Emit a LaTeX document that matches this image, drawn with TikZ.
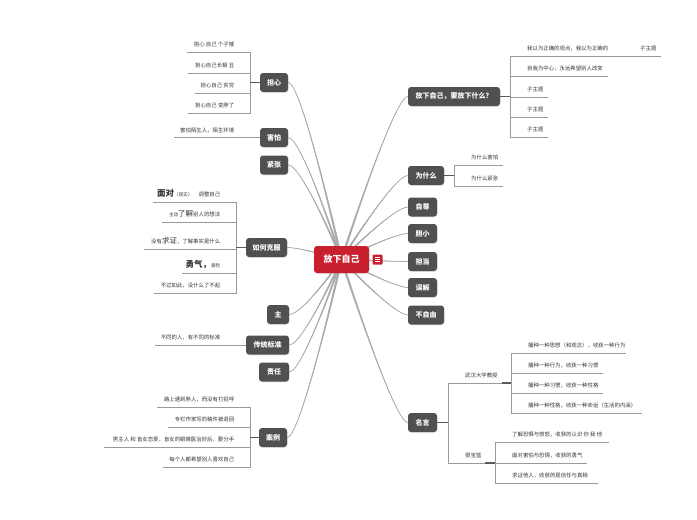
\documentclass[tikz,border=0pt]{standalone}
\usepackage{fontspec}
\setmainfont{Noto Sans CJK SC}
\usetikzlibrary{calc,backgrounds,shadows}
\definecolor{nodegray}{HTML}{505050}
\definecolor{mainred}{HTML}{C8202F}
\definecolor{connc}{HTML}{ABABAB}
\definecolor{leafc}{HTML}{9A9A9A}
\definecolor{stubc}{HTML}{5A5A5A}
\definecolor{txt}{HTML}{333333}
\tikzset{
 topic/.style={fill=nodegray, text=white, rounded corners=3pt, minimum height=19pt, inner sep=0pt,
   font=\bfseries\fontsize{7}{8}\selectfont,
   drop shadow={opacity=0.2, shadow xshift=0.6pt, shadow yshift=-0.8pt}},
 central/.style={fill=mainred, text=white, rounded corners=3pt, minimum width=55pt, minimum height=27pt,
   inner sep=0pt, font=\bfseries\fontsize{9}{10}\selectfont,
   drop shadow={opacity=0.2, shadow xshift=0.6pt, shadow yshift=-0.8pt}},
 icon/.style={fill=mainred, rounded corners=1pt, minimum size=10pt, inner sep=0pt},
 leaf/.style={inner xsep=0pt, inner ysep=5pt, text depth=0pt, text height=4.5pt,
   font=\fontsize{5.4}{6}\selectfont, text=txt, anchor=south west},
 leafline/.style={draw=leafc, line width=0.6pt},
 bracket/.style={draw=leafc, line width=0.6pt},
 stub/.style={draw=stubc, line width=1.2pt},
 cfill/.style={fill=connc},
 cline/.style={draw=connc, line width=0.7pt},
}
\newcommand\bigboldtxt[1]{{\fontsize{8.5}{9}\selectfont\bfseries #1}}
\newcommand\bigplaintxt[1]{{\fontsize{7.5}{8}\selectfont #1}}
\newcommand\smallplaintxt[1]{{\fontsize{4.6}{5}\selectfont #1}}
\newcommand\leafL[5]{\node[leaf] (#1) at (#2,#3) {\makebox[#4pt][r]{#5\hspace{16pt}}};
  \draw[leafline] (#1.south west) -- (#1.south east);}
\newcommand\leafR[5]{\node[leaf] (#1) at (#2,#3) {\makebox[#4pt][l]{\hspace{17pt}#5}};
  \draw[leafline] (#1.south west) -- (#1.south east);}
\newcommand\mainbranch[2]{%
 \coordinate (ctl) at ($(#1)+(#2,0)$);
 \coordinate (sa) at ($(c.center)+(-1.3,0)$);
 \coordinate (sb) at ($(c.center)+(1.3,0)$);
 \coordinate (sc) at ($(c.center)+(0,-1.3)$);
 \coordinate (sd) at ($(c.center)+(0,1.3)$);
 \fill[cfill] (sa) .. controls (sa) and (ctl) .. (#1) .. controls (ctl) and (sb) .. (sb) -- cycle;
 \fill[cfill] (sc) .. controls (sc) and (ctl) .. (#1) .. controls (ctl) and (sd) .. (sd) -- cycle;
 \draw[cline] (c.center) .. controls (c.center) and (ctl) .. (#1);}
\begin{document}
\begin{tikzpicture}[x=1pt,y=-1pt]
\useasboundingbox (0,0) rectangle (697,520);
% central
\node[central] (c) at (341.5,259.5) {放下自己};
\node[icon] (ic) at (377.5,259.5) {};
\draw[white, line width=0.6pt] ($(ic.center)+(-2.6,-2)$) -- ++(5.2,0)
  ($(ic.center)+(-2.6,0)$) -- ++(5.2,0) ($(ic.center)+(-2.6,2)$) -- ++(5.2,0);
% right topics
\node[topic, minimum width=92pt] (n1) at (454,96.5) {放下自己，要放下什么？};
\node[topic, minimum width=36pt] (n2) at (426,175.5) {为什么};
\node[topic, minimum width=29pt] (n3) at (422.5,207) {自尊};
\node[topic, minimum width=29pt] (n4) at (422.5,233.5) {胆小};
\node[topic, minimum width=29pt] (n5) at (422.5,261.5) {担当};
\node[topic, minimum width=29pt] (n6) at (422.5,287.5) {误解};
\node[topic, minimum width=36pt] (n7) at (426,315) {不自由};
\node[topic, minimum width=29pt] (n8) at (422.5,422.5) {名言};
% left topics
\node[topic, minimum width=28pt] (m1) at (274,82.5) {担心};
\node[topic, minimum width=28pt] (m2) at (274,137.5) {害怕};
\node[topic, minimum width=28pt] (m3) at (274,165) {紧张};
\node[topic, minimum width=41pt] (m4) at (266.5,247.5) {如何克服};
\node[topic, minimum width=22pt] (m5) at (278,314.5) {主};
\node[topic, minimum width=43pt] (m6) at (267.5,345) {传统标准};
\node[topic, minimum width=30pt] (m7) at (274,372) {责任};
\node[topic, minimum width=28pt] (m8) at (273,437.5) {案例};
% main connectors
\begin{pgfonlayer}{background}
\mainbranch{n1.west}{-14}
\mainbranch{n2.west}{-14}
\mainbranch{n3.west}{-14}
\mainbranch{n4.west}{-14}
\mainbranch{n5.west}{-14}
\mainbranch{n6.west}{-14}
\mainbranch{n7.west}{-14}
\mainbranch{n8.west}{-14}
\mainbranch{m1.east}{14}
\mainbranch{m2.east}{14}
\mainbranch{m3.east}{14}
\mainbranch{m4.east}{14}
\mainbranch{m5.east}{14}
\mainbranch{m6.east}{14}
\mainbranch{m7.east}{14}
\mainbranch{m8.east}{14}
\end{pgfonlayer}
% ---- right leaves
\leafR{r1}{510}{56}{103}{我以为正确的观点，我以为正确的}
\leafR{r1c}{623}{56}{38}{子主题}
\leafR{r2}{510}{76}{98}{自我为中心，永远希望别人改变}
\leafR{r3}{510}{97}{38}{子主题}
\leafR{r4}{510}{117}{38}{子主题}
\leafR{r5}{510}{137}{38}{子主题}
\draw[leafline] (r1.south east) -- (r1c.south west);
\foreach \l in {r1,r2,r3,r4,r5} \draw[bracket] (n1.east) -- ++(10,0) |- (\l.south west);
\draw[stub] (n1.east) -- ++(10,0);

\leafR{w1}{454}{165}{49}{为什么害怕}
\leafR{w2}{454}{186}{49}{为什么紧张}
\foreach \l in {w1,w2} \draw[bracket] (n2.east) -- ++(10,0) |- (\l.south west);
\draw[stub] (n2.east) -- ++(10,0);

\leafR{q1}{448}{383}{54}{武汉大学教授}
\leafR{q1a}{511}{353}{115}{播种一种思想（和观念），收获一种行为}
\leafR{q1b}{511}{373}{92}{播种一种行为，收获一种习惯}
\leafR{q1c}{511}{393}{92}{播种一种习惯，收获一种性格}
\leafR{q1d}{511}{413}{131}{播种一种性格，收获一种命运（生活的内涵）}
\leafR{q2}{448}{463}{37}{很宝篮}
\leafR{q2a}{495}{442}{114}{了解恐惧与愤怒，收获的认识 你 我 他}
\leafR{q2b}{495}{463}{92}{面对害怕与恐惧，收获的勇气}
\leafR{q2c}{495}{483}{103}{求证他人，收获的是信任与真相}
\foreach \l in {q1,q2} \draw[bracket] (n8.east) -- ++(11,0) |- (\l.south west);
\draw[stub] (n8.east) -- ++(11,0);
\foreach \l in {q1a,q1b,q1c,q1d} \draw[bracket] (q1.south east) -- ++(9,0) |- (\l.south west);
\draw[stub] (q1.south east) -- ++(9,0);
\foreach \l in {q2a,q2b,q2c} \draw[bracket] (q2.south east) -- ++(10,0) |- (\l.south west);
\draw[stub] (q2.south east) -- ++(10,0);

% ---- left leaves
\leafL{d1}{187}{52}{63}{担心 自己 个子矮}
\leafL{d2}{188}{73}{62}{担心自己长相 丑}
\leafL{d3}{195}{93}{55}{担心自己 贫穷}
\leafL{d4}{188}{113}{62}{担心自己 变胖了}
\foreach \l in {d1,d2,d3,d4} \draw[bracket] (m1.west) -- ++(-10,0) |- (\l.south east);
\draw[stub] (m1.west) -- ++(-10,0);

\leafL{h1}{174}{137.5}{76}{害怕陌生人，陌生环境}
\draw[bracket] (m2.west) -- (h1.south east);

\leafL{k1}{153}{202}{83}{\bigboldtxt{面对}\smallplaintxt{（现实）}\hspace{6pt}调整自己}
\leafL{k2}{162}{222}{74}{\smallplaintxt{主动}\bigplaintxt{了解}别人的想法}
\leafL{k3}{144}{249}{92}{没有\bigplaintxt{求证}，了解事实是什么}
\leafL{k4}{182}{273}{54}{\bigboldtxt{勇气，}\smallplaintxt{冒险}}
\leafL{k5}{154}{293}{82}{不过如此，没什么了不起}
\foreach \l in {k1,k2,k3,k4,k5} \draw[bracket] (m4.west) -- ++(-10,0) |- (\l.south east);
\draw[stub] (m4.west) -- ++(-10,0);

\leafL{t1}{155}{345}{81}{不同的人，有不同的标准}
\draw[bracket] (m6.west) -- (t1.south east);

\leafL{a1}{157}{407}{93}{路上遇到熟人，而没有打招呼}
\leafL{a2}{168}{427}{82}{专栏作家写的稿件被退回}
\leafL{a3}{104}{447}{146}{男主人 和 盲女恋爱，盲女的眼睛医治好后，要分手}
\leafL{a4}{163}{467}{87}{每个人都希望别人喜欢自己}
\foreach \l in {a1,a2,a3,a4} \draw[bracket] (m8.west) -- ++(-9,0) |- (\l.south east);
\draw[stub] (m8.west) -- ++(-9,0);
\end{tikzpicture}
\end{document}
